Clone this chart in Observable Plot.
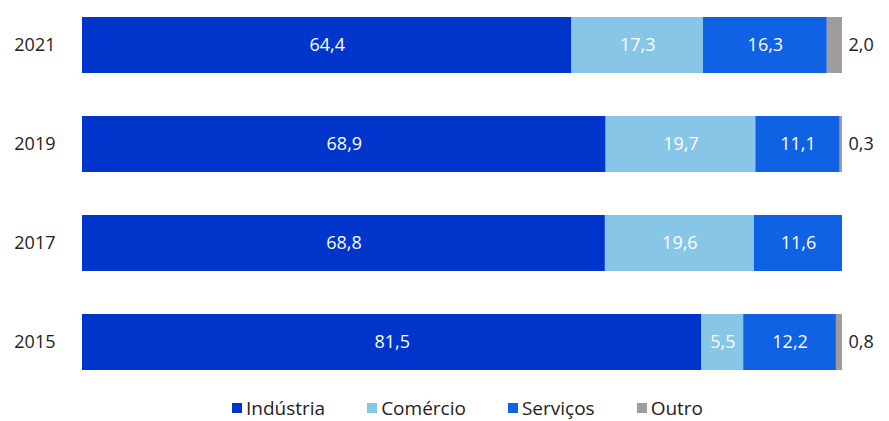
<!DOCTYPE html>
<html>
<head>
<meta charset="utf-8">
<script src="https://cdn.jsdelivr.net/npm/d3@7"></script>
<script src="https://cdn.jsdelivr.net/npm/@observablehq/plot@0.6"></script>
<style>
  html, body { margin: 0; padding: 0; background: #fff; }
  body { width: 889px; height: 421px; overflow: hidden; font-family: "Open Sans", "Noto Sans", sans-serif; }
  #chart svg { display: block; }
  #legend { display: flex; justify-content: center; margin-top: 19px; font-size: 19px; line-height: 18px; color: #222; padding-left: 46px; }
  #legend .item { display: flex; align-items: center; margin: 0 21px; }
  #legend .sw { width: 10px; height: 10px; margin-right: 4px; }
</style>
</head>
<body>
<div id="chart"></div>
<div id="legend"></div>
<script>
const years = ["2021", "2019", "2017", "2015"];
const sectors = ["Indústria", "Comércio", "Serviços", "Outro"];
const industria = [64.4, 68.9, 68.8, 81.5];
const comercio = [17.3, 19.7, 19.6, 5.5];
const servicos = [16.3, 11.1, 11.6, 12.2];
const outro = [2.0, 0.3, 0, 0.8];
const colors = ["#0035cc", "#87c6e6", "#0f62e4", "#a09c9c"];

const series = [industria, comercio, servicos, outro];
const rows = [];
years.forEach((y, i) => {
  sectors.forEach((s, j) => rows.push({year: y, sector: s, value: series[j][i]}));
});
const fmt = v => v.toFixed(1).replace(".", ",");

const chart = Plot.plot({
  width: 889,
  height: 380,
  marginLeft: 82,
  marginRight: 47,
  marginTop: 16,
  marginBottom: 10,
  style: {fontFamily: "'Open Sans', 'Noto Sans', sans-serif", fontSize: "18px", color: "#222"},
  x: {domain: [0, 100], axis: null},
  y: {domain: years, paddingInner: 0.436, paddingOuter: 0, label: null, tickSize: 0, tickPadding: 27},
  color: {domain: sectors, range: colors},
  marks: [
    Plot.barX(rows, Plot.stackX({y: "year", x: "value", fill: "sector", order: sectors})),
    Plot.text(rows, Plot.stackX({
      filter: d => d.sector !== "Outro",
      y: "year", x: "value", z: "sector", order: sectors,
      text: d => fmt(d.value), fill: "white", fontSize: 18
    })),
    Plot.text(rows.filter(d => d.sector === "Outro" && d.value > 0), {
      y: "year", x: () => 100, text: d => fmt(d.value),
      textAnchor: "start", dx: 6, fill: "#222", fontSize: 18
    })
  ]
});
document.getElementById("chart").appendChild(chart);

const legend = document.getElementById("legend");
sectors.forEach((s, i) => {
  const it = document.createElement("div");
  it.className = "item";
  const sw = document.createElement("span");
  sw.className = "sw";
  sw.style.background = colors[i];
  const t = document.createElement("span");
  t.textContent = s;
  it.appendChild(sw); it.appendChild(t);
  legend.appendChild(it);
});
</script>
</body>
</html>
